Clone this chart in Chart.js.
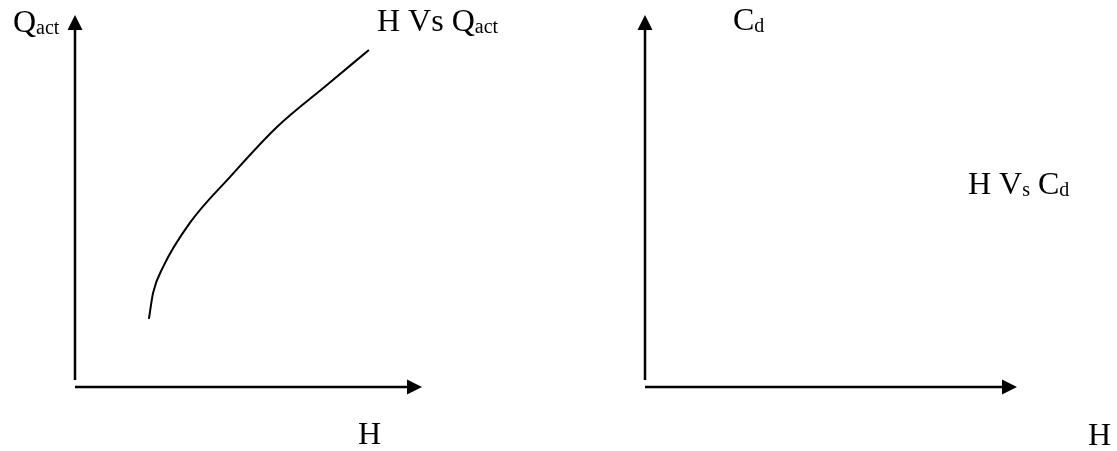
<!DOCTYPE html>
<html>
<head>
<meta charset="utf-8">
<script src="https://cdn.jsdelivr.net/npm/chart.js@4.4.0/dist/chart.umd.min.js"></script>
<style>
    html, body { margin: 0; padding: 0; background: #fff; }
    #wrap { position: relative; width: 1117px; height: 451px; }
    .panel { position: absolute; top: 0; height: 451px; }
    #left { left: 0; width: 560px; }
    #right { left: 560px; width: 557px; }
</style>
</head>
<body>
<div id="wrap">
    <div class="panel" id="left"><canvas id="chartQ"></canvas></div>
    <div class="panel" id="right"><canvas id="chartCd"></canvas></div>
</div>
<script>
// H (x axis, arbitrary units 0..10) and Q_act
const headValues = [2.13, 2.25, 2.54, 3.31, 4.47, 5.82, 7.26, 8.47];
const qactValues = [1.83, 2.53, 3.23, 4.41, 5.65, 6.99, 8.12, 9.06];
// second plot has no curve drawn
const cdHeadValues = [];
const cdValues = [];
const axisMin = 0;
const axisMax = 10;

// label texts: [text, isSubscript]
const qYLabel = [['Q', false], ['act', true]];
const qTitle = [['H Vs ', false], ['Q', false], ['act', true]];
const cdYLabel = [['C', false], ['d', true]];
const cdTitle = [['H V', false], ['s', true], [' C', false], ['d', true]];
const xLabel = [['H', false]];

const FONT_MAIN = '32px "Liberation Serif", "Times New Roman", serif';
const FONT_SUB = '20px "Liberation Serif", "Times New Roman", serif';

function drawParts(ctx, parts, x, y) {
    let cx = x;
    parts.forEach(([txt, sub]) => {
        ctx.font = sub ? FONT_SUB : FONT_MAIN;
        ctx.fillText(txt, cx, sub ? y + 2 : y);
        cx += ctx.measureText(txt).width;
    });
}

// arrows for axes, drawn from the chart's own scales
const axisArrows = {
    id: 'axisArrows',
    afterDatasetsDraw(chart) {
        const { ctx } = chart;
        const xs = chart.scales.x, ys = chart.scales.y;
        const x0 = xs.getPixelForValue(axisMin);
        const x1 = xs.getPixelForValue(axisMax);
        const y0 = ys.getPixelForValue(axisMin);
        const y1 = ys.getPixelForValue(axisMax);
        ctx.save();
        ctx.strokeStyle = '#000';
        ctx.fillStyle = '#000';
        ctx.lineWidth = 2.5;
        // y axis
        ctx.beginPath();
        ctx.moveTo(x0, y0 - 7);
        ctx.lineTo(x0, y1 + 12);
        ctx.stroke();
        ctx.beginPath();
        ctx.moveTo(x0, y1);
        ctx.lineTo(x0 - 7.5, y1 + 15);
        ctx.lineTo(x0 + 7.5, y1 + 15);
        ctx.closePath();
        ctx.fill();
        // x axis
        ctx.beginPath();
        ctx.moveTo(x0, y0);
        ctx.lineTo(x1 - 12, y0);
        ctx.stroke();
        ctx.beginPath();
        ctx.moveTo(x1, y0);
        ctx.lineTo(x1 - 15, y0 - 7.5);
        ctx.lineTo(x1 - 15, y0 + 7.5);
        ctx.closePath();
        ctx.fill();
        ctx.restore();
    }
};

const sketchLabels = {
    id: 'sketchLabels',
    afterDraw(chart, args, opts) {
        const { ctx } = chart;
        ctx.save();
        ctx.fillStyle = '#000';
        ctx.textBaseline = 'alphabetic';
        ctx.textAlign = 'left';
        opts.items.forEach(it => drawParts(ctx, it.parts, it.x, it.y));
        ctx.restore();
    }
};

function makeChart(canvasId, xs, ys, padding, items) {
    return new Chart(document.getElementById(canvasId), {
        type: 'line',
        data: {
            datasets: [{
                data: xs.map((h, i) => ({ x: h, y: ys[i] })),
                borderColor: '#000',
                borderWidth: 2,
                pointRadius: 0,
                fill: false,
                cubicInterpolationMode: 'monotone'
            }]
        },
        options: {
            responsive: true,
            maintainAspectRatio: false,
            animation: false,
            layout: { padding: padding },
            plugins: {
                legend: { display: false },
                tooltip: { enabled: false },
                sketchLabels: { items: items }
            },
            scales: {
                x: { type: 'linear', min: axisMin, max: axisMax, display: false },
                y: { type: 'linear', min: axisMin, max: axisMax, display: false }
            }
        },
        plugins: [axisArrows, sketchLabels]
    });
}

makeChart('chartQ', headValues, qactValues,
    { left: 75, right: 138, top: 15, bottom: 64 },
    [
        { parts: qYLabel, x: 13, y: 32 },
        { parts: qTitle, x: 377, y: 31 },
        { parts: xLabel, x: 358, y: 444 }
    ]);

makeChart('chartCd', cdHeadValues, cdValues,
    { left: 85, right: 100, top: 15, bottom: 64 },
    [
        { parts: cdYLabel, x: 173, y: 30 },
        { parts: cdTitle, x: 408, y: 194 },
        { parts: xLabel, x: 528, y: 445 }
    ]);
</script>
</body>
</html>
